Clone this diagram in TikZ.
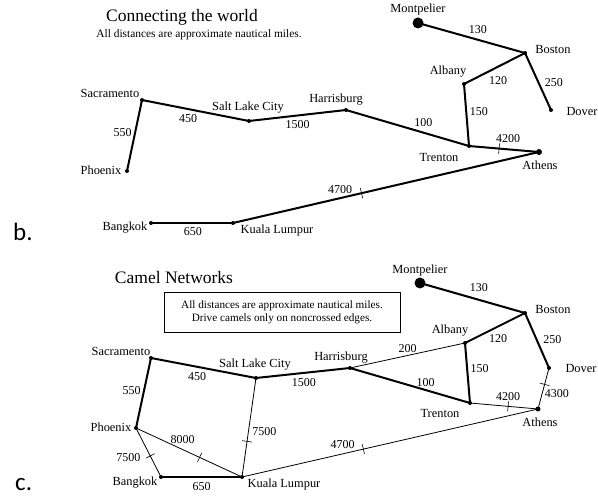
\documentclass[tikz,border=0pt]{standalone}
\usepackage{fontspec}
\usepackage{tikz}
\setmainfont{Liberation Serif}
\newfontfamily\panelfont{Carlito}

\begin{document}
\begin{tikzpicture}[x=1pt, y=-1pt,
    road/.style={line width=2pt, line cap=round, line join=round},
    trail/.style={line width=0.8pt},
    city/.style={font=\fontsize{12.4}{14}\selectfont, inner sep=0pt, text height=8.5pt, text depth=2pt},
    dist/.style={font=\fontsize{12}{14}\selectfont, inner sep=2.5pt, text height=8pt, text depth=0pt},
    crossmark/.style={sloped, draw, line width=0.6pt, inner sep=0pt, minimum width=0pt, minimum height=10pt},
    dot/.style={circle, fill=black, inner sep=0pt, minimum size=#1},
    dot/.default=4pt]
    \useasboundingbox (0,0) rectangle (598,497);

    % Panel b: headings
    \node[font=\fontsize{17.5}{20}\selectfont] (titleb) at (182,17) {Connecting the world};
    \node[font=\fontsize{11.4}{13}\selectfont] (subb) at (199,35) {All distances are approximate nautical miles.};
    \node[font=\panelfont\fontsize{25}{27}\selectfont, anchor=base west, inner sep=0pt] (tagb) at (13,241) {b.};

    % Panel b: cities
    \foreach \n/\x/\y/\s/\t/\tx/\ty in {
        mont/418/23/11pt/Montpelier/418/9,
        bos/525/53/4pt/Boston/553/50,
        alb/464/84/4pt/Albany/448/71,
        dov/551/110/4pt/Dover/582/112,
        har/346/110/4pt/Harrisburg/336/99,
        tre/469/146/4pt/Trenton/439/158,
        ath/539/152/6pt/Athens/540/166,
        sac/142/100/4pt/Sacramento/110/94,
        slc/249/121/4pt/Salt Lake City/248/107,
        pho/127/171/4pt/Phoenix/101/171,
        ban/151/223/4pt/Bangkok/125/227,
        kl/233/223/4pt/Kuala Lumpur/277/230} {
        \node[dot=\s] (b\n) at (\x,\y) {};
        \node[city] (b\n-name) at (\tx,\ty) {\t};
    }

    % Panel b: roads
    \draw[road] (bpho.center) -- (bsac.center) node[dist, pos=.54, left] {550};
    \draw[road] (bsac.center) -- (bslc.center) node[dist, pos=.43, below=1.5pt] {450};
    \draw[road] (bslc.center) -- (bhar.center) node[dist, pos=.5, below=2pt] {1500};
    \draw[road] (bhar.center) -- (btre.center) node[dist, pos=.63, above=3pt] {100};
    \draw[road] (btre.center) -- (balb.center) node[dist, pos=.55, right] {150};
    \draw[road] (balb.center) -- (bbos.center) node[dist, pos=.56, below=6pt] {120};
    \draw[road] (bbos.center) -- (bmont.center) node[dist, pos=.44, above=3pt] {130};
    \draw[road] (bbos.center) -- (bdov.center) node[dist, pos=.51, right=3pt] {250};
    \draw[road] (btre.center) -- (bath.center) node[crossmark, pos=.43] {}
        node[dist, pos=.56, above=3pt] {4200};
    \draw[road] (bath.center) -- (bkl.center) node[crossmark, pos=.58] {}
        node[dist, pos=.65, above=1.5pt] {4700};
    \draw[road] (bkl.center) -- (bban.center) node[dist, pos=.49, below=1pt] {650};

    % Panel c: headings
    \node[font=\fontsize{17.5}{20}\selectfont] (titlec) at (174,278) {Camel Networks};
    \node[draw, line width=0.8pt, minimum width=236pt, minimum height=40pt, align=center,
        font=\fontsize{11.2}{13}\selectfont] (note) at (282,312)
        {All distances are approximate nautical miles.\\Drive camels only on noncrossed edges.};
    \node[font=\panelfont\fontsize{25}{27}\selectfont, anchor=base west, inner sep=0pt] (tagc) at (15,490) {c.};

    % Panel c: cities
    \foreach \n/\x/\y/\s/\t/\tx/\ty in {
        mont/420/283/11pt/Montpelier/420/270,
        bos/525/313/4pt/Boston/553/310,
        alb/465/343/4pt/Albany/450/330,
        dov/549/368/4pt/Dover/581/369,
        har/350/368/4pt/Harrisburg/341/357,
        tre/470/403/4pt/Trenton/440/414,
        ath/538/409/5pt/Athens/540/423,
        sac/151/358/4pt/Sacramento/121/352,
        slc/256/378/4pt/Salt Lake City/255/364,
        pho/136/428/4pt/Phoenix/111/428,
        ban/161/477/4pt/Bangkok/135/482,
        kl/242/477/4pt/Kuala Lumpur/284/484} {
        \node[dot=\s] (c\n) at (\x,\y) {};
        \node[city] (c\n-name) at (\tx,\ty) {\t};
    }

    % Panel c: kept roads (thick)
    \draw[road] (cpho.center) -- (csac.center) node[dist, pos=.54, left] {550};
    \draw[road] (csac.center) -- (cslc.center) node[dist, pos=.44, below=2.5pt] {450};
    \draw[road] (cslc.center) -- (char.center) node[dist, pos=.51, below=2.5pt] {1500};
    \draw[road] (char.center) -- (ctre.center) node[dist, pos=.63, above] {100};
    \draw[road] (ctre.center) -- (calb.center) node[dist, pos=.57, right] {150};
    \draw[road] (calb.center) -- (cbos.center) node[dist, pos=.55, below=5pt] {120};
    \draw[road] (cbos.center) -- (cmont.center) node[dist, pos=.44, above=4.5pt] {130};
    \draw[road] (cbos.center) -- (cdov.center) node[dist, pos=.49, right=3pt] {250};
    \draw[road] (cban.center) -- (ckl.center) node[dist, pos=.5, below=1.5pt] {650};

    % Panel c: other roads (thin, crossed ones are closed)
    \draw[trail] (char.center) -- (calb.center) node[dist, pos=.5, above] {200};
    \draw[trail] (cdov.center) -- (cath.center) node[crossmark, pos=.4] {}
        node[dist, pos=.63, right] {4300};
    \draw[trail] (ctre.center) -- (cath.center) node[crossmark, pos=.56] {}
        node[dist, pos=.56, above=3pt] {4200};
    \draw[trail] (cath.center) -- (ckl.center) node[crossmark, pos=.59] {}
        node[dist, pos=.66, above=2.5pt] {4700};
    \draw[trail] (cslc.center) -- (ckl.center) node[crossmark, pos=.64] {}
        node[dist, pos=.54, right=1pt] {7500};
    \draw[trail] (cpho.center) -- (ckl.center) node[crossmark, pos=.6] {}
        node[dist, pos=.44, above=3.5pt] {8000};
    \draw[trail] (cpho.center) -- (cban.center) node[crossmark, pos=.57] {}
        node[dist, pos=.61, left=8pt] {7500};
\end{tikzpicture}
\end{document}
